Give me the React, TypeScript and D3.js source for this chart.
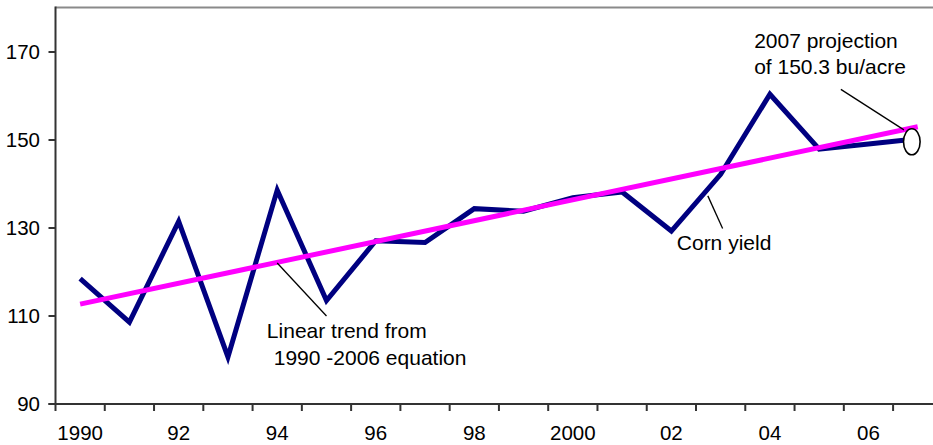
import React, { useEffect, useRef } from "react";
import * as d3 from "d3";

// --- Data ---
const years = [1990, 1991, 1992, 1993, 1994, 1995, 1996, 1997, 1998, 1999, 2000, 2001, 2002, 2003, 2004, 2005, 2006, 2007];
const cornYield = [118.5, 108.6, 131.5, 100.7, 138.6, 113.5, 127.1, 126.7, 134.4, 133.8, 136.9, 138.2, 129.3, 142.2, 160.4, 147.9, 149.1, 150.3];
const trendYears = [1990, 2007];
const trendValues = [112.7, 153.0];
const yTicks = [90, 110, 130, 150, 170];
const xLabelYears = [1990, 1992, 1994, 1996, 1998, 2000, 2002, 2004, 2006];
const xLabels = ["1990", "92", "94", "96", "98", "2000", "02", "04", "06"];

export default function App() {
    const svgRef = useRef<SVGSVGElement>(null);
    const width = 933;
    const height = 445;

    useEffect(() => {
        if (!svgRef.current) return;
        const svg = d3.select(svgRef.current);
        svg.selectAll("*").remove();

        const left = 55.5;
        const step = 49.27;
        const top = 8;
        const bottom = 404;
        const font = "'Liberation Sans', Arial, sans-serif";

        // year centres sit in the middle of each category band
        const x = d3.scaleLinear()
            .domain([years[0] - 0.5, years[years.length - 1] + 0.5])
            .range([left, left + step * years.length]);
        const y = d3.scaleLinear().domain([90, 180]).range([bottom, top]);

        // --- Frame ---
        svg.append("line")
            .attr("x1", left).attr("x2", width)
            .attr("y1", top - 0.5).attr("y2", top - 0.5)
            .attr("stroke", "#8a8a8a").attr("stroke-width", 2);
        svg.append("line")
            .attr("x1", left).attr("x2", left)
            .attr("y1", top - 1.5).attr("y2", bottom)
            .attr("stroke", "#333").attr("stroke-width", 2);
        svg.append("line")
            .attr("x1", left - 7).attr("x2", width)
            .attr("y1", bottom).attr("y2", bottom)
            .attr("stroke", "#333").attr("stroke-width", 2);

        // --- Y axis ---
        yTicks.forEach((t) => {
            svg.append("line")
                .attr("x1", left - 7).attr("x2", left)
                .attr("y1", y(t)).attr("y2", y(t))
                .attr("stroke", "#333").attr("stroke-width", 2);
            svg.append("text")
                .attr("x", 40)
                .attr("y", y(t))
                .attr("dy", "0.36em")
                .attr("text-anchor", "end")
                .attr("font-family", font)
                .attr("font-size", "20.5px")
                .attr("fill", "#000")
                .text(t);
        });

        // --- X axis (ticks between categories) ---
        d3.range(years.length + 1).forEach((i) => {
            const xt = x(years[0] - 0.5 + i);
            svg.append("line")
                .attr("x1", xt).attr("x2", xt)
                .attr("y1", bottom).attr("y2", bottom + 7)
                .attr("stroke", "#333").attr("stroke-width", 2);
        });
        xLabelYears.forEach((yr, i) => {
            svg.append("text")
                .attr("x", x(yr))
                .attr("y", 440)
                .attr("text-anchor", "middle")
                .attr("font-family", font)
                .attr("font-size", "20.5px")
                .attr("fill", "#000")
                .text(xLabels[i]);
        });

        // --- Corn yield line ---
        const line = d3.line<number>()
            .x((_, i) => x(years[i]))
            .y((d) => y(d));
        svg.append("path")
            .attr("d", line(cornYield) as string)
            .attr("fill", "none")
            .attr("stroke", "#000080")
            .attr("stroke-width", 5)
            .attr("stroke-linejoin", "miter");

        // --- Trend line ---
        const trendLine = d3.line<number>()
            .x((_, i) => x(trendYears[i]))
            .y((d) => y(d));
        svg.append("path")
            .attr("d", trendLine(trendValues) as string)
            .attr("fill", "none")
            .attr("stroke", "#ff00ff")
            .attr("stroke-width", 5);

        // --- Annotations (positions in data units) ---
        const leaders = [
            [[1994.0, 122.05], [1995.0, 110.0]],
            [[2002.74, 137.3], [2003.04, 129.9]],
            [[2005.44, 161.5], [2006.72, 152.3]],
        ];
        leaders.forEach(([a, b]) => {
            svg.append("line")
                .attr("x1", x(a[0])).attr("y1", y(a[1]))
                .attr("x2", x(b[0])).attr("y2", y(b[1]))
                .attr("stroke", "#000").attr("stroke-width", 1.3);
        });

        svg.append("ellipse")
            .attr("cx", x(2006.88))
            .attr("cy", y(149.6))
            .attr("rx", 8.3)
            .attr("ry", 13)
            .attr("fill", "#fff")
            .attr("stroke", "#000")
            .attr("stroke-width", 1.6);

        const labels: [number, number, string][] = [
            [1993.79, 105.0, "Linear trend from"],
            [1993.93, 98.85, "1990 -2006 equation"],
            [2002.11, 125.0, "Corn yield"],
            [2003.68, 170.9, "2007 projection"],
            [2003.68, 165.0, "of 150.3 bu/acre"],
        ];
        labels.forEach(([yr, v, s]) => {
            svg.append("text")
                .attr("x", x(yr))
                .attr("y", y(v))
                .attr("font-family", font)
                .attr("font-size", "21px")
                .attr("fill", "#000")
                .text(s);
        });
    }, []);

    return (
        <svg
            ref={svgRef}
            width={width}
            height={height}
            style={{ position: "absolute", left: 0, top: 0, background: "#fff" }}
        />
    );
}
